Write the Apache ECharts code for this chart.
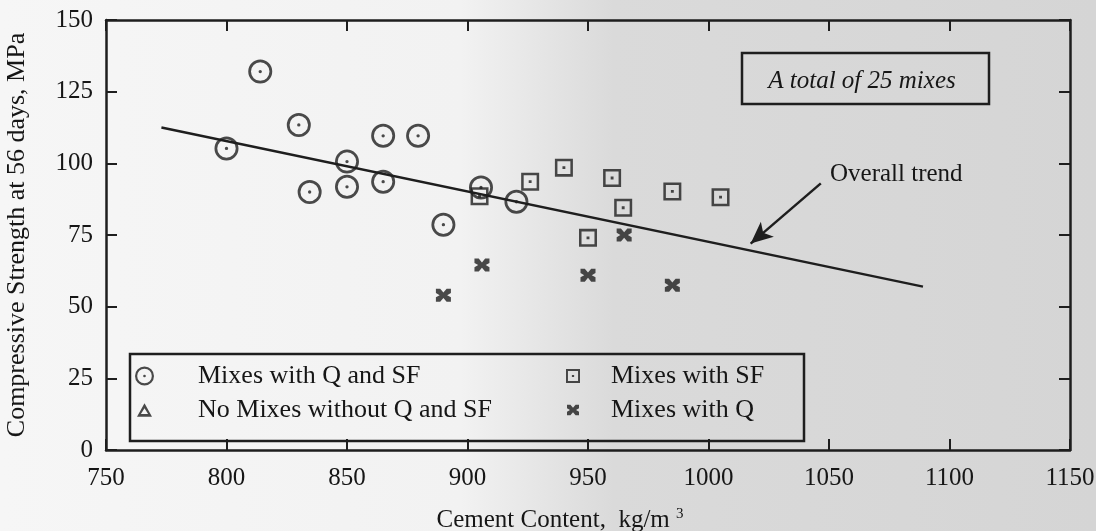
<!DOCTYPE html>
<html style="height: 100%">
<head>
    <meta charset="utf-8">
</head>
<body style="height: 100%; margin: 0">
    <div id="container" style="width: 1096px; height: 531px; background: linear-gradient(to right, #f6f6f6 0%, #f2f2f2 42%, #dadada 56%, #d5d5d5 100%);"></div>
    <script type="text/javascript" src="https://cdn.jsdelivr.net/npm/echarts@6/dist/echarts.min.js"></script>
    <script type="text/javascript">
// cement content (kg/m3) vs 56-day compressive strength (MPa)
var qsfX = [800, 814, 830, 834.5, 850, 850, 865, 865, 879.5, 890, 905.6, 920.3];
var qsfY = [105.2, 132, 113.4, 90, 100.6, 91.8, 109.6, 93.6, 109.6, 78.6, 91.6, 86.6];
var sfX = [905, 926, 940, 960, 964.6, 950, 985, 1005];
var sfY = [88.5, 93.6, 98.5, 94.9, 84.5, 74, 90.2, 88.2];
var qX = [890, 906, 950, 965, 985];
var qY = [54, 64.5, 61, 75, 57.5];
var trendX = [773, 1089];
var trendY = [112.5, 57];
var xTicks = [750, 800, 850, 900, 950, 1000, 1050, 1100, 1150];
var yTicks = [0, 25, 50, 75, 100, 125, 150];

var names = ['Mixes with Q and SF', 'No Mixes without Q and SF', 'Mixes with SF', 'Mixes with Q'];

function pairs(xs, ys) {
    var out = [];
    for (var i = 0; i < xs.length; i++) out.push([xs[i], ys[i]]);
    return out;
}

var ink = '#1e1e1e';
var txt = '#161616';
var font = 'Liberation Serif';

var ringDot = 'path://M0,-10 A10,10 0 1,1 0,10 A10,10 0 1,1 0,-10 Z M0,-7.7 A7.7,7.7 0 1,0 0,7.7 A7.7,7.7 0 1,0 0,-7.7 Z M0,-1.4 A1.4,1.4 0 1,1 0,1.4 A1.4,1.4 0 1,1 0,-1.4 Z';
var boxDot = 'path://M-10,-10 L10,-10 L10,10 L-10,10 Z M-7.2,-7.2 L-7.2,7.2 L7.2,7.2 L7.2,-7.2 Z M-1.6,-1.6 L1.6,-1.6 L1.6,1.6 L-1.6,1.6 Z';
var tri = 'path://M0,-10 L10,8 L-10,8 Z M0,-3.4 L-4.8,4.2 L4.8,4.2 Z';
var bowX = 'path://M-7,-6 L-3,-6 L0,-2.5 L3,-6 L7,-6 L7,-2 L3.5,0 L7,2 L7,6 L3,6 L0,2.5 L-3,6 L-7,6 L-7,2 L-3.5,0 L-7,-2 Z';

var dom = document.getElementById('container');
var myChart = echarts.init(dom);

function axisBase(pos) {
    return {
        type: 'value',
        position: pos,
        axisLine: {onZero: false, lineStyle: {color: ink, width: 2.5}},
        axisTick: {inside: true, length: 11, lineStyle: {color: ink, width: 2}},
        splitLine: {show: false}
    };
}

function plain(v) { return String(v); }

var xb = axisBase('bottom');
xb.min = xTicks[0]; xb.max = xTicks[xTicks.length - 1]; xb.interval = 50;
xb.axisLabel = {color: txt, fontFamily: font, fontSize: 25, margin: 16, formatter: plain};
xb.name = 'Cement Content,  kg/m {sup|3}';
xb.nameLocation = 'middle';
xb.nameGap = 57;
xb.nameTextStyle = {color: txt, fontFamily: font, fontSize: 25, padding: [0, 56, 0, 0],
    rich: {sup: {fontFamily: font, fontSize: 15, verticalAlign: 'top', padding: [0, 0, 12, 0], color: txt}}};

var xt = axisBase('top');
xt.min = xb.min; xt.max = xb.max; xt.interval = 50;
xt.axisLabel = {show: false};

var yl = axisBase('left');
yl.min = yTicks[0]; yl.max = yTicks[yTicks.length - 1]; yl.interval = 25;
yl.axisLabel = {color: txt, fontFamily: font, fontSize: 25, margin: 13, formatter: plain};
yl.name = 'Compressive Strength at 56 days, MPa';
yl.nameLocation = 'middle';
yl.nameGap = 76;
yl.nameTextStyle = {color: txt, fontFamily: font, fontSize: 26};

var yr = axisBase('right');
yr.min = yl.min; yr.max = yl.max; yr.interval = 25;
yr.axisLabel = {show: false};

function legendAt(name, left, top, size, pad) {
    return {
        data: [name], left: left, top: top, padding: 0,
        itemWidth: size, itemHeight: size, selectedMode: false,
        textStyle: {color: txt, fontFamily: font, fontSize: 26, lineHeight: 26, padding: [0, 0, 0, pad]}
    };
}

var option = {
    animation: false,
    backgroundColor: 'transparent',
    grid: {left: 106, right: 26, top: 20, bottom: 81, outerBoundsMode: 'none'},
    xAxis: [xb, xt],
    yAxis: [yl, yr],
    legend: [
        legendAt(names[0], 135, 363, 19, 39),
        legendAt(names[1], 137, 397, 15, 41),
        legendAt(names[2], 566, 363, 14, 26),
        legendAt(names[3], 567, 397, 12, 27)
    ],
    graphic: [
        {type: 'rect', shape: {x: 130, y: 354, width: 674, height: 87},
         style: {fill: 'none', stroke: ink, lineWidth: 2.5}, silent: true},
        {type: 'rect', shape: {x: 742, y: 53, width: 247, height: 51},
         style: {fill: 'none', stroke: ink, lineWidth: 2.5}, silent: true},
        {type: 'text', x: 862, y: 81, silent: true,
         style: {text: 'A total of 25 mixes', fill: txt, fontFamily: font, fontSize: 25,
                 fontStyle: 'italic', align: 'center', verticalAlign: 'middle'}},
        {type: 'text', x: 830, y: 174, silent: true,
         style: {text: 'Overall trend', fill: txt, fontFamily: font, fontSize: 25,
                 align: 'left', verticalAlign: 'middle'}}
    ],
    series: [
        {
            name: 'trend',
            type: 'line',
            data: pairs(trendX, trendY),
            symbol: 'none',
            lineStyle: {color: ink, width: 2.5},
            z: 1,
            markLine: {
                silent: true,
                symbol: ['none', 'arrow'],
                symbolSize: [15, 22],
                label: {show: false},
                lineStyle: {color: ink, width: 2.5, type: 'solid'},
                data: [[{coord: [1046.6, 93]}, {coord: [1017.5, 72]}]]
            }
        },
        {
            name: names[0], type: 'scatter', data: pairs(qsfX, qsfY),
            symbol: ringDot, symbolSize: 24, itemStyle: {color: ink}, z: 3
        },
        {
            name: names[1], type: 'scatter', data: [],
            symbol: tri, symbolSize: 14, itemStyle: {color: ink}
        },
        {
            name: names[2], type: 'scatter', data: pairs(sfX, sfY),
            symbol: boxDot, symbolSize: 18, itemStyle: {color: ink}, z: 2
        },
        {
            name: names[3], type: 'scatter', data: pairs(qX, qY),
            symbol: bowX, symbolSize: [15, 13], itemStyle: {color: ink}, z: 2
        }
    ]
};

if (option && typeof option === 'object') {
    myChart.setOption(option, true);
}
    </script>
</body>
</html>
